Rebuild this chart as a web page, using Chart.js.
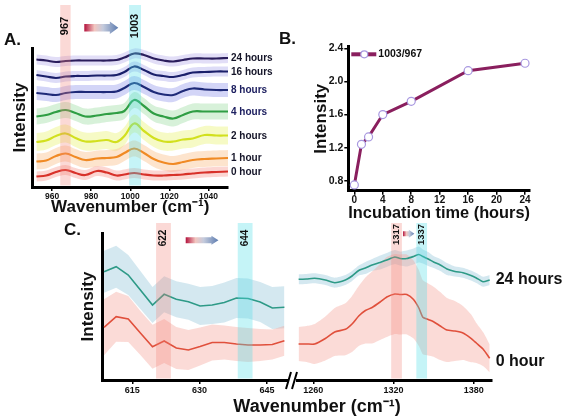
<!DOCTYPE html>
<html lang="en">
<head>
<meta charset="UTF-8" />
<title>Raman spectra vs incubation time</title>
<script src="https://cdn.jsdelivr.net/npm/chart.js"></script>
<style>
  html,body{margin:0;padding:0;background:#fff;}
  #wrap{position:relative;width:567px;height:420px;overflow:hidden;background:#fff;}
  #wrap canvas{position:absolute;left:0;top:0;}
</style>
</head>
<body>
<div id="wrap">
  <canvas id="cA" width="567" height="420"></canvas>
  <canvas id="cB" width="567" height="420"></canvas>
  <canvas id="cCL" width="567" height="420"></canvas>
  <canvas id="cCR" width="567" height="420"></canvas>
</div>
<script>
// ── panel A: spectra 950–1050 cm-1, stacked by incubation time ────────────
const waveA  = [952,957,962,967,972,977,983,988,993,997,1002,1007,1012,1017,1022,1027,1032,1038,1044,1050];
const timesA = ['0 hour','1 hour','2 hours','4 hours','8 hours','16 hours','24 hours'];
const specA0  = [10.5,11.5,15,17,14,12,16,14.5,11.5,12.5,14,12.5,11.5,11.5,12,12.5,13.5,14.5,15,15.5];
const specA1  = [25.5,26.5,31,33.5,30,27,28.5,29,30,34,38.5,34,28,24.5,23,25,27,28,28.5,29];
const specA2  = [45,46.5,51,53.5,49,45.5,46,47,45,51,63.5,56,49,45.5,45.5,47.5,48.5,52,51.5,51.5];
const specA4  = [70.5,72,75,77,74,70.5,71.5,73,74,76,87,81,73.5,70.5,68.5,72,75.5,75.5,75.5,75.5];
const specA8  = [94,93,92,94,95,95,95,95,95.5,99,104,100,95,92.5,92,96,98.5,97.5,97,97];
const specA16 = [112,110.5,109,110.5,111,111,111.5,111.5,112,115,120.5,117,112.5,111,110,112,114.5,115,115.5,115.5];
const specA24 = [127.5,126.5,125,126,126.5,126.5,126.5,126.5,127,129.5,133.5,132,128.5,126.5,125.5,127,128.5,128.5,128.5,129];
const sdA     = [5, 8, 9, 8, 7, 5, 5];       // half width of shaded band, per series
const ticksAx = [960, 980, 1000, 1020, 1040];
const markA   = ['967', '1003'];
const spanA   = [[964.2, 969.5], [999.4, 1005.5]];
const arrowA  = [976.5, 993.9];

// ── panel B: 1003/967 ratio vs time ──────────────────────────────────────
const hoursB  = [0, 1, 2, 4, 8, 16, 24];
const ratioB  = [0.75, 1.24, 1.33, 1.60, 1.76, 2.13, 2.22];
const ticksBx = [0, 4, 8, 12, 16, 20, 24];
const ticksBy = [0.8, 1.2, 1.6, 2.0, 2.4];

// ── panel C left: 608–650 cm-1 ───────────────────────────────────────────
const waveCL  = [608.7,611.4,614.1,616.8,619.5,622.1,624.8,627.5,630.1,632.8,635.5,638.2,640.8,643.5,646.2,648.9];
const h24CL   = [10.83,11.33,10.5,9.0,7.5,8.57,8.07,7.83,7.4,7.5,7.75,8.2,8.15,7.8,7.2,7.27];
const h24CLsd = [2.1,2.1,2.0,1.9,1.8,1.8,1.8,1.8,1.9,1.9,2.0,2.0,2.0,2.0,2.1,2.1];
const h0CL    = [5.27,6.33,6.1,4.7,3.33,3.9,3.2,3.0,3.35,3.75,3.75,3.6,3.5,3.5,3.55,3.93];
const h0CLsd  = [2.8,2.5,2.3,2.2,2.2,2.2,2.1,2.0,1.9,1.8,1.7,1.7,1.7,1.6,1.5,1.5];
const ticksCL = [615, 630, 645];
const markCL  = ['622', '644'];
const spanCL  = [[620.3, 623.6], [638.5, 641.8]];
const arrowCL = [626.9, 634.2];

// ── panel C right: 1248–1393 cm-1 ────────────────────────────────────────
const waveCR  = [1249,1255,1261,1269,1276,1284,1289,1294,1299,1304,1310,1315,1321,1325,1330,1335,1339,1342,1346,1350,1355,1360,1366,1372,1378,1382,1387,1392];
const h24CR   = [10.07,10.1,10.17,10.0,9.73,10.0,10.4,10.95,11.2,11.5,11.75,12.0,12.3,12.15,12.15,12.35,12.55,12.35,12.1,11.8,11.5,11.1,10.85,10.73,10.45,10.2,9.83,10.0];
const h24CRsd = [0.5,0.5,0.5,0.5,0.5,0.5,0.5,0.5,0.6,0.6,0.7,0.7,0.7,0.7,0.8,0.8,0.8,0.7,0.7,0.6,0.6,0.6,0.5,0.5,0.5,0.5,0.5,0.5];
const h0CR    = [3.6,3.6,3.6,4.15,4.8,5.07,5.6,6.4,6.95,7.25,7.8,8.3,8.6,8.55,8.55,8.05,7.2,6.27,6.05,5.83,5.4,5.0,4.9,4.7,4.17,3.7,3.1,2.17];
const h0CRsd  = [1.7,1.8,2.0,2.2,2.4,2.6,2.8,3.0,3.3,3.6,3.8,4.0,4.0,4.0,4.0,3.9,3.8,3.7,3.6,3.5,3.4,3.2,3.0,2.7,2.4,2.0,1.7,1.4];
const ticksCR = [1260, 1320, 1380];
const markCR  = ['1317', '1337'];
const spanCR  = [[1318.3, 1326.3], [1337.1, 1345.1]];
const arrowCR = [1327.1, 1335.6];
const labelsC = ['0 hour', '24 hours'];

// ── styles ───────────────────────────────────────────────────────────────
const FAM = '"Liberation Sans", Arial, sans-serif';
const lineA = ['#d8322a','#f08a24','#d2e01e','#2f9e44','#1e2a78','#1a1f6a','#2a1d5c'];
const fillA = ['rgba(248,165,155,0.45)','rgba(250,195,145,0.45)','rgba(238,245,150,0.55)',
               'rgba(175,228,180,0.5)','rgba(175,178,240,0.55)','rgba(188,185,240,0.5)','rgba(198,190,240,0.5)'];
const TEAL = '#2e9a87', TEAL_F = 'rgba(160,205,222,0.45)';
const RED  = '#e0503c', RED_F  = 'rgba(245,160,150,0.38)';
const PINK_SPAN = 'rgba(242,130,120,0.3)', CYAN_SPAN = 'rgba(80,222,232,0.33)';

// ── helpers ──────────────────────────────────────────────────────────────
function pts(xs, ys){ return xs.map((x,i)=>({x, y:ys[i]})); }

function band(xs, ys, sd, color, tension){
  const s = Array.isArray(sd) ? sd : xs.map(()=>sd);
  return [
    {data: xs.map((x,i)=>({x, y:ys[i]+s[i]})), fill:'+1', backgroundColor:color,
     borderWidth:0, pointRadius:0, tension, order:2},
    {data: xs.map((x,i)=>({x, y:ys[i]-s[i]})), fill:false,
     borderWidth:0, pointRadius:0, tension, order:2}
  ];
}
function line(xs, ys, color, width, tension){
  return {data: pts(xs, ys), borderColor:color, borderWidth:width, pointRadius:0,
          fill:false, tension, order:1};
}
function fixedTicks(list){ return s => { s.ticks = list.map(v=>({value:v})); }; }

function xAxis(min, max, tickList, size, h, title, pad){
  return {
    type:'linear', min, max,
    afterBuildTicks: fixedTicks(tickList),
    afterFit: s => { s.height = h; },
    ticks:{color:'#111', font:{family:FAM, size, weight:'bold'}, padding: pad ?? 1, maxRotation:0,
           callback: v => String(v)},
    grid:{display:true, drawOnChartArea:false, drawTicks:true, tickLength:4, color:'#000', lineWidth:1.5},
    border:{display:true, color:'#000', width:3},
    title: title || {display:false}
  };
}
function axisTitle(text, size, pad){
  return {display:true, text, color:'#111', font:{family:FAM, size, weight:'bold'}, padding:pad};
}

function drawSpans(ctx, x, spans, marks, colors, top, bottom, labelY, fs){
  spans.forEach(([lo,hi], i) => {
    const x0 = x.getPixelForValue(lo), x1 = x.getPixelForValue(hi);
    ctx.fillStyle = colors[i];
    ctx.fillRect(x0, top, x1 - x0, bottom - top);
    ctx.save();
    ctx.translate((x0 + x1) / 2, labelY);
    ctx.rotate(-Math.PI / 2);
    ctx.fillStyle = '#111';
    ctx.font = `bold ${fs}px ${FAM}`;
    ctx.textAlign = 'center'; ctx.textBaseline = 'middle';
    ctx.fillText(marks[i], 0, 0);
    ctx.restore();
  });
}
function drawArrow(ctx, x0, x1, yc, sh, hh, hl){
  const g = ctx.createLinearGradient(x0, 0, x1, 0);
  g.addColorStop(0, '#b3123c');
  g.addColorStop(0.3, '#f2c6c0');
  g.addColorStop(0.55, '#c4cbdc');
  g.addColorStop(1, '#5d7cb0');
  ctx.fillStyle = g;
  ctx.beginPath();
  ctx.moveTo(x0, yc - sh); ctx.lineTo(x1 - hl, yc - sh); ctx.lineTo(x1 - hl, yc - hh);
  ctx.lineTo(x1, yc); ctx.lineTo(x1 - hl, yc + hh); ctx.lineTo(x1 - hl, yc + sh);
  ctx.lineTo(x0, yc + sh); ctx.closePath(); ctx.fill();
}
function text(ctx, s, x, y, size, align, color){
  ctx.fillStyle = color || '#111';
  ctx.font = `bold ${size}px ${FAM}`;
  ctx.textAlign = align || 'left'; ctx.textBaseline = 'middle';
  ctx.fillText(s, x, y);
}

const base = {responsive:false, animation:false, events:[],
  plugins:{legend:{display:false}, tooltip:{enabled:false}}};

// ── chart A ──────────────────────────────────────────────────────────────
const seriesA = [specA0, specA1, specA2, specA4, specA8, specA16, specA24];
const dsA = [];
seriesA.forEach((s,i) => dsA.push(...band(waveA, s, sdA[i], fillA[i], 0.4)));
seriesA.forEach((s,i) => dsA.push(line(waveA, s, lineA[i], 2.2, 0.4)));

const decorA = {
  id:'decorA',
  afterDatasetsDraw(chart){
    const {ctx, chartArea:ca, scales:{x, y}} = chart;
    ctx.save();
    drawSpans(ctx, x, spanA, markA, [PINK_SPAN, CYAN_SPAN], 5, ca.bottom - 1.5, 26, 11);
    drawArrow(ctx, x.getPixelForValue(arrowA[0]), x.getPixelForValue(arrowA[1]), 27.7, 3.8, 6.2, 8.5);
    seriesA.forEach((s,i) => {
      const yy = y.getPixelForValue(s[s.length - 1]) + 0.5;
      text(ctx, timesA[i], ca.right + 3, yy, 10, 'left', (i===3||i===4) ? '#1e2060' : '#141428');
    });
    text(ctx, 'A.', 4, 40, 17);
    ctx.restore();
  }
};

new Chart(document.getElementById('cA'), {
  type:'line',
  data:{datasets:dsA},
  options:{...base,
    layout:{padding:{left:0, right:567-228, top:48, bottom:420-187-32}},
    scales:{
      x: xAxis(950, 1050, ticksAx, 8.5, 32, axisTitle('Wavenumber (cm⁻¹)', 17, {top:0, bottom:1})),
      y: {min:0, max:139, afterFit: s => { s.width = 32.5; },
          ticks:{display:false}, grid:{display:false},
          border:{display:true, color:'#000', width:3},
          title: axisTitle('Intensity', 17, {top:10, bottom:0})}
    }
  },
  plugins:[decorA]
});

// ── chart B ──────────────────────────────────────────────────────────────
const decorB = {
  id:'decorB',
  afterDatasetsDraw(chart){
    const {ctx, chartArea:ca} = chart;
    ctx.save();
    const ly = ca.top + 7.6, lx = ca.left + 3;
    ctx.strokeStyle = '#8a1f5e'; ctx.lineWidth = 4;
    ctx.beginPath(); ctx.moveTo(lx, ly); ctx.lineTo(lx + 25, ly); ctx.stroke();
    ctx.fillStyle = '#fff'; ctx.strokeStyle = '#a898e0'; ctx.lineWidth = 1.2;
    ctx.beginPath(); ctx.arc(lx + 13, ly, 3.5, 0, Math.PI*2); ctx.fill(); ctx.stroke();
    text(ctx, chart.data.datasets[0].label, lx + 27, ly, 10.5);
    text(ctx, 'B.', 279, 39, 17);
    ctx.restore();
  }
};

new Chart(document.getElementById('cB'), {
  type:'line',
  data:{datasets:[{
    label:'1003/967', data:pts(hoursB, ratioB),
    borderColor:'#8a1f5e', borderWidth:3, tension:0,
    pointRadius:4, pointBackgroundColor:'#fff', pointBorderColor:'#a898e0', pointBorderWidth:1.2
  }]},
  options:{...base,
    layout:{padding:{left:308.3, right:567-530, top:46.7, bottom:420-190.7-33}},
    scales:{
      x: xAxis(-0.85, 24.7, ticksBx, 10, 33, axisTitle('Incubation time (hours)', 16.5, {top:0, bottom:0}), 0),
      y: {min:0.68, max:2.42, afterBuildTicks: fixedTicks(ticksBy), afterFit: s => { s.width = 40; },
          ticks:{color:'#111', font:{family:FAM, size:10.5, weight:'bold'}, padding:1,
                 callback: v => v.toFixed(1)},
          grid:{display:true, drawOnChartArea:false, drawTicks:true, tickLength:4, color:'#000', lineWidth:1.5},
          border:{display:true, color:'#000', width:3},
          title: axisTitle('Intensity', 17, {top:2.5, bottom:0})}
    }
  },
  plugins:[decorB]
});

// ── chart C left ─────────────────────────────────────────────────────────
const decorCL = {
  id:'decorCL',
  afterDatasetsDraw(chart){
    const {ctx, chartArea:ca, scales:{x}} = chart;
    ctx.save();
    drawSpans(ctx, x, spanCL, markCL, [PINK_SPAN, CYAN_SPAN], ca.top - 10, ca.bottom - 1.5, ca.top + 5, 10);
    drawArrow(ctx, x.getPixelForValue(arrowCL[0]), x.getPixelForValue(arrowCL[1]), ca.top + 7.3, 3, 4.5, 7);
    // axis break
    ctx.strokeStyle = '#000'; ctx.lineWidth = 2;
    ctx.beginPath();
    ctx.moveTo(ca.right - 2, ca.bottom + 9); ctx.lineTo(ca.right + 3, ca.bottom - 8);
    ctx.moveTo(ca.right + 4, ca.bottom + 9); ctx.lineTo(ca.right + 9, ca.bottom - 8);
    ctx.stroke();
    text(ctx, 'Wavenumber (cm⁻¹)', 317, 407, 18, 'center');
    text(ctx, 'C.', 64, 230, 17);
    ctx.restore();
  }
};

new Chart(document.getElementById('cCL'), {
  type:'line',
  data:{datasets:[
    ...band(waveCL, h0CL, h0CLsd, RED_F, 0),
    ...band(waveCL, h24CL, h24CLsd, TEAL_F, 0),
    line(waveCL, h0CL, RED, 1.6, 0),
    line(waveCL, h24CL, TEAL, 1.6, 0)
  ]},
  options:{...base,
    layout:{padding:{left:72.7, right:567-288, top:233, bottom:420-380-25}},
    scales:{
      x: xAxis(608.4, 649.7, ticksCL, 9, 25),
      y: {min:0, max:14.7, afterFit: s => { s.width = 30; },
          ticks:{display:false}, grid:{display:false},
          border:{display:true, color:'#000', width:3},
          title: axisTitle('Intensity', 17, {top:5, bottom:0})}
    }
  },
  plugins:[decorCL]
});

// ── chart C right ────────────────────────────────────────────────────────
const decorCR = {
  id:'decorCR',
  afterDatasetsDraw(chart){
    const {ctx, chartArea:ca, scales:{x, y}} = chart;
    ctx.save();
    drawSpans(ctx, x, spanCR, markCR, [PINK_SPAN, CYAN_SPAN], ca.top - 10, ca.bottom - 1.5, ca.top + 1.5, 9.5);
    drawArrow(ctx, x.getPixelForValue(arrowCR[0]), x.getPixelForValue(arrowCR[1]), ca.top + 0.7, 2.5, 4, 5.5);
    text(ctx, labelsC[1], ca.right + 4, y.getPixelForValue(h24CR[h24CR.length-1]), 16);
    text(ctx, labelsC[0], ca.right + 4, y.getPixelForValue(h0CR[h0CR.length-1]) + 3, 16);
    ctx.restore();
  }
};

new Chart(document.getElementById('cCR'), {
  type:'line',
  data:{datasets:[
    ...band(waveCR, h0CR, h0CRsd, RED_F, 0.2),
    ...band(waveCR, h24CR, h24CRsd, TEAL_F, 0.2),
    line(waveCR, h0CR, RED, 1.6, 0.2),
    line(waveCR, h24CR, TEAL, 1.6, 0.2)
  ]},
  options:{...base,
    layout:{padding:{left:297, right:567-491.7, top:233, bottom:420-380-25}},
    scales:{
      x: xAxis(1247.8, 1393.5, ticksCR, 9, 25),
      y: {display:false, min:0, max:14.7}
    }
  },
  plugins:[decorCR]
});
</script>
</body>
</html>
